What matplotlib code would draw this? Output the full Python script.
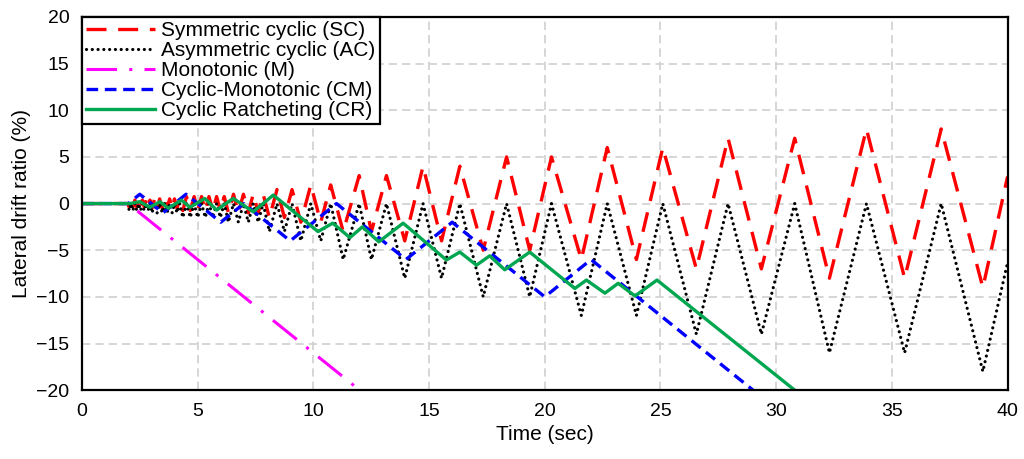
import matplotlib
matplotlib.use("Agg")
import matplotlib.pyplot as plt

plt.rcParams['font.family'] = ['Liberation Sans', 'DejaVu Sans']

# Symmetric cyclic (SC): turning points
sc_t = [0, 2.00, 2.04, 2.12, 2.20, 2.29, 2.37, 2.45, 2.53, 2.61, 2.69, 2.78, 2.86, 2.94,
        3.03, 3.14, 3.25, 3.36, 3.47, 3.57, 3.68, 3.79, 3.90, 4.00, 4.11, 4.22,
        4.36, 4.52, 4.68, 4.85, 5.00, 5.17, 5.33, 5.49, 5.66, 5.82, 5.98, 6.15,
        6.33, 6.55, 6.76, 6.98, 7.19, 7.40, 7.62, 7.83,
        8.10, 8.43, 8.75, 9.08,
        9.46, 9.89, 10.32, 10.75,
        11.29, 11.98, 12.51, 13.16,
        13.95, 14.74, 15.54, 16.33,
        17.34, 18.35, 19.35, 20.29,
        21.58, 22.70, 23.96, 25.10,
        26.55, 27.92, 29.36, 30.80,
        32.30, 33.90, 35.55, 37.13,
        38.93, 40.0]
sc_v = [0, 0, -0.375, 0.375, -0.375, 0.375, -0.375, 0.375, -0.375, 0.375, -0.375, 0.375, -0.375, 0.375,
        -0.5, 0.5, -0.5, 0.5, -0.5, 0.5, -0.5, 0.5, -0.5, 0.5, -0.5, 0.5,
        -0.75, 0.75, -0.75, 0.75, -0.75, 0.75, -0.75, 0.75, -0.75, 0.75, -0.75, 0.75,
        -1, 1, -1, 1, -1, 1, -1, 1,
        -1.5, 1.5, -1.5, 1.5,
        -2, 2, -2, 2,
        -3, 3, -3, 3,
        -4, 4, -4, 4,
        -5, 5, -5, 5,
        -6, 6, -6, 6,
        -7, 7, -7, 7,
        -8, 8, -8, 8,
        -9, 2.9]

# Asymmetric cyclic (AC): peaks near zero, valleys at twice the amplitude
ac_t = sc_t
ac_v = [0, 0, -0.75, 0, -0.75, 0, -0.75, 0, -0.75, 0, -0.75, 0, -0.75, 0,
        -1, 0, -1, 0, -1, 0, -1, 0, -1, 0, -1, 0,
        -1.5, 0, -1.5, 0, -1.5, 0, -1.5, 0, -1.5, 0, -1.5, 0,
        -2, 0, -2, 0, -2, 0, -2, 0,
        -3, 0, -3, 0,
        -4, 0, -4, 0,
        -6, 0, -6, 0,
        -8, 0, -8, 0,
        -10, 0, -10, 0,
        -12, 0, -12, 0,
        -14, 0, -14, 0,
        -16, 0, -16, 0,
        -18, -6.3]

# Monotonic (M)
m_t = [0, 2.0, 12.0]
m_v = [0, 0, -20]

# Cyclic-Monotonic (CM)
cm_t = [0, 2.0, 2.5, 3.5, 4.5, 6.0, 7.0, 9.0, 11.0, 14.0, 16.0, 20.0, 22.0, 29.0]
cm_v = [0, 0, 1, -1, 1, -2, 0, -4, 0, -6, -2, -10, -6, -20]

# Cyclic Ratcheting (CR)
cr_t = [0, 2.07, 2.5, 2.94, 3.37, 3.73, 4.3, 4.67, 5.31, 5.82, 6.54, 7.4, 8.27,
        10.2, 10.84, 11.58, 12.12, 12.83, 13.88, 15.75, 16.33, 17.05, 17.62,
        18.27, 19.35, 21.3, 21.8, 22.6, 23.17, 23.9, 24.85, 30.8]
cr_v = [0, 0, 0.2, -0.4, 0.2, -0.5, 0.37, -0.4, 0.55, -0.7, 0.55, -0.88, 0.91,
        -3.0, -2.1, -3.65, -2.5, -4.1, -2.1, -6.05, -5.2, -6.6, -5.6,
        -7.1, -5.2, -9.1, -8.2, -9.6, -8.55, -9.9, -8.2, -20]

fig = plt.figure(figsize=(10.24, 4.59), dpi=100)
ax = fig.add_axes([0.080, 0.150, 0.904, 0.813])

ax.plot(sc_t, sc_v, color='#FF0000', lw=2.4, dashes=(6, 3.5), label='Symmetric cyclic (SC)')
ax.plot(ac_t, ac_v, color='black', lw=2.3, dashes=(0.01, 1.8), dash_capstyle='round',
        label='Asymmetric cyclic (AC)')
ax.plot(m_t, m_v, color='#FF00FF', lw=2.2, dashes=(10, 4, 1, 4), label='Monotonic (M)')
ax.plot(cm_t, cm_v, color='#0000FF', lw=2.4, dashes=(3.5, 2), label='Cyclic-Monotonic (CM)')
ax.plot(cr_t, cr_v, color='#00A650', lw=2.4, label='Cyclic Ratcheting (CR)')

ax.set_xlim(0, 40)
ax.set_ylim(-20, 20)
ax.set_xticks(range(0, 41, 5))
ax.set_yticks(range(-20, 21, 5))
ax.grid(True, color='#D0D0D0', lw=1.2, dashes=(5, 3))
ax.set_axisbelow(True)
ax.tick_params(length=0, labelsize=14, pad=9)
for s in ax.spines.values():
    s.set_linewidth(1.6)
    s.set_color('black')

ax.set_xlabel('Time (sec)', fontsize=15, labelpad=4)
ax.set_ylabel('Lateral drift ratio (%)', fontsize=15, labelpad=4)

leg = ax.legend(loc='upper left', fontsize=15, frameon=True, fancybox=False,
                framealpha=1, edgecolor='black', borderaxespad=0,
                handlelength=3.3, handletextpad=0.3, labelspacing=0.05,
                borderpad=0.2)
leg.get_frame().set_linewidth(1.6)

fig.savefig('out.png', dpi=100)
